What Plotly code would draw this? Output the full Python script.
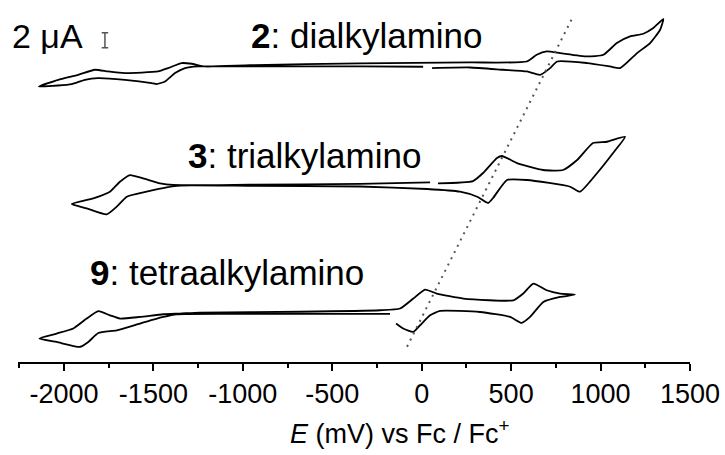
import plotly.graph_objects as go

# ---- data: potential E (mV vs Fc/Fc+) and current (µA, relative to each trace's baseline)
E2 = [58, 270, 455, 589, 662, 718, 757, 925, 1053, 1109, 1204, 1277, 1333, 1351,
      1295, 1239, 1165, 1091, 1016, 923, 774, 699, 643, 587, 270, -345, -960, -1212,
      -1286, -1342, -1418, -1474, -1659, -1754, -1827, -1920, -2032, -2140,
      -2034, -1957, -1883, -1810, -1659, -1510, -1482, -1435, -1379, -1323, -1251,
      -1172, -680, -345, 8]
I2 = [-0.31, -0.23, -0.53, -0.76, -1.2, -0.31, 0.57, 0.36, -0.09, -0.31, 1.69, 3.03, 4.8, 6.23,
      5.03, 4.27, 3.91, 3.03, 1.47, 1.24, 1.69, 1.91, 1.47, 0.57, 0.44, 0.33, 0.07, -0.09,
      0.27, 0.36, -0.31, -0.76, -0.97, -0.76, -0.53, -1.2, -1.87, -2.76,
      -2.63, -2.44, -1.87, -1.64, -1.87, -2.31, -2.44, -2.09, -0.97, -0.31, -0.09,
      -0.09, -0.07, -0.07, -0.13]

E3 = [91, 287, 343, 421, 449, 533, 679, 790, 869, 958, 1036, 1137, 1070, 981, 885,
      830, 589, 477, 399, 371, 310, 214, 30, -345, -960, -1351, -1426, -1538, -1649,
      -1705, -1761, -1873, -1957, -1836, -1743, -1687, -1631, -1557, -1463, -1389,
      -960, -345, 47]
I3 = [0.23, 0.53, 1.6, 3.6, 3.87, 2.93, 2.0, 2.0, 3.33, 5.6, 5.77, 6.44, 4.27, 1.6, -0.89,
      -0.23, 0.67, 0.67, -1.73, -2.4, -1.56, -0.89, -0.53, -0.2, -0.11, -0.07, -0.31, -0.89, -1.56,
      -2.89, -3.91, -3.11, -2.53, -1.77, -0.89, 0.44, 1.33, 0.89, 0.23, 0.0,
      0.04, 0.16, 0.36]

E9 = [-143, -103, -47, -9, 47, 103, 326, 494, 559, 606, 680, 774, 857, 774, 699, 624,
      568, 512, 233, 84, 19, -47, -121, -233, -680, -1240, -1351, -1445, -1575, -1687,
      -1743, -1808, -1873, -1948, -2041, -2138, -2041, -1911, -1864, -1808, -1705,
      -1575, -1445, -1370, -960, -177]
I9 = [-1.37, -2.04, -2.49, -1.6, -0.27, 0.31, 0.17, -0.49, -1.29, -0.49, 1.51, 2.17, 2.49, 2.63, 3.07, 3.96,
      2.63, 1.73, 1.96, 2.63, 3.16, 1.96, 0.63, 0.4, 0.2, 0.09, -0.04, -0.13, -0.49, -0.71,
      -0.27, 0.27, -0.71, -2.04, -2.71, -3.37, -3.83, -4.49, -3.83, -2.63, -2.27,
      -1.37, -0.49, -0.13, -0.07, -0.07]

# vertical offsets (µA) used to stack the three voltammograms
OFFSETS = {"2": 39.5, "3": 23.6, "9": 6.5}

# dotted guide line (E in mV, absolute stacked current in µA)
GUIDE_E = [-82, 841]
GUIDE_I = [2.04, 45.83]

LABELS = ["<b>2</b>: dialkylamino", "<b>3</b>: trialkylamino", "<b>9</b>: tetraalkylamino"]
LABEL_E = [-965, -1318, -1866]
LABEL_I = [43.5, 27.6, 11.9]

X_TICKS = [-2000, -1500, -1000, -500, 0, 500, 1000, 1500]
X_TITLE = "<i>E</i> (mV) vs Fc / Fc<sup>+</sup>"

# scale bar: 2 µA
SCALE_E = -1771
SCALE_I0 = 41.9
SCALE_LEN = 2.0

FONT = "Liberation Sans, Arial, sans-serif"

fig = go.Figure()
line_style = dict(color="black", width=1.8)
for E, I, key in [(E2, I2, "2"), (E3, I3, "3"), (E9, I9, "9")]:
    fig.add_trace(go.Scatter(x=E, y=[v + OFFSETS[key] for v in I], mode="lines",
                             line=dict(line_style, shape="spline", smoothing=0.5),
                             hoverinfo="skip", showlegend=False))

fig.add_trace(go.Scatter(x=GUIDE_E, y=GUIDE_I, mode="lines",
                         line=dict(color="#555555", width=2, dash="2px,5px"),
                         hoverinfo="skip", showlegend=False))

for txt, x, y in zip(LABELS, LABEL_E, LABEL_I):
    fig.add_annotation(x=x, y=y, text=txt, showarrow=False, xanchor="left", yanchor="middle",
                       font=dict(family=FONT, size=35, color="black"))

fig.add_annotation(x=-0.012, xref="paper", y=43.5, text="2 μA", showarrow=False, xanchor="left",
                   yanchor="middle", font=dict(family=FONT, size=34, color="black"))

# x-axis title (placed as annotation, centred right of the plot centre as in the original)
fig.add_annotation(x=0.568, xref="paper", y=-0.193, yref="paper", text=X_TITLE,
                   showarrow=False, xanchor="center", yanchor="middle",
                   font=dict(family=FONT, size=27, color="black"))

# scale bar shape (I-beam)
cap = 18
fig.add_shape(type="line", x0=SCALE_E, x1=SCALE_E, y0=SCALE_I0, y1=SCALE_I0 + SCALE_LEN,
              line=dict(color="#555555", width=1.5))
for yy in (SCALE_I0, SCALE_I0 + SCALE_LEN):
    fig.add_shape(type="line", x0=SCALE_E - cap, x1=SCALE_E + cap, y0=yy, y1=yy,
                  line=dict(color="#555555", width=1.5))

fig.update_layout(
    width=725, height=455,
    margin=dict(l=18, r=35, t=0, b=93),
    plot_bgcolor="white", paper_bgcolor="white",
    font=dict(family=FONT, color="black"),
    xaxis=dict(range=[-2257, 1500], tickvals=X_TICKS, ticktext=[str(v) for v in X_TICKS],
               ticks="outside", ticklen=7, tickwidth=1.5, tickcolor="black",
               showline=True, linecolor="black", linewidth=1.5, showgrid=False, zeroline=False,
               minor=dict(dtick=250, tick0=0, ticks="outside", ticklen=4, tickwidth=1.5,
                          tickcolor="black", showgrid=False),
               tickfont=dict(family=FONT, size=27, color="black")),
    yaxis=dict(range=[0, 48.27], visible=False, showgrid=False, zeroline=False),
)

fig.write_html("out.html")
